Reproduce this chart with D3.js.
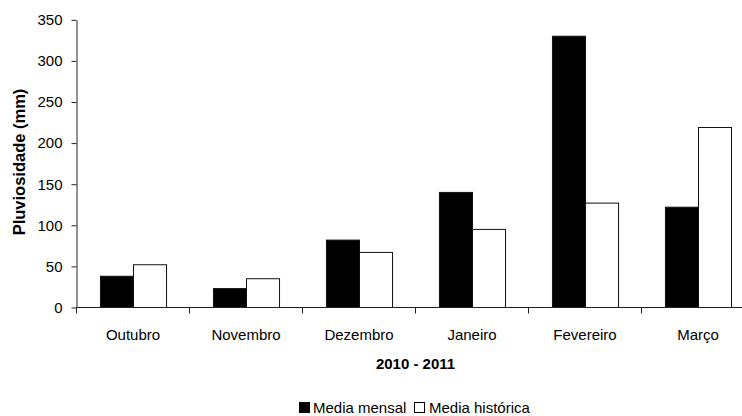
<!DOCTYPE html>
<html>
<head>
<meta charset="utf-8">
<script src="https://cdn.jsdelivr.net/npm/d3@7"></script>
<style>
  html, body { margin: 0; padding: 0; background: #fff; }
  svg { display: block; font-family: "Liberation Sans", Arial, sans-serif; }
</style>
</head>
<body>
<svg id="chart" width="742" height="416"></svg>
<script>
const categories = ["Outubro", "Novembro", "Dezembro", "Janeiro", "Fevereiro", "Março"];
const seriesNames = ["Media mensal", "Media histórica"];
const mediaMensal = [38, 23, 82, 140, 330, 122];
const mediaHistorica = [52, 35, 67, 95, 127, 219];
const yTicks = [0, 50, 100, 150, 200, 250, 300, 350];
const yTitle = "Pluviosidade (mm)";
const xTitle = "2010 - 2011";

const seriesValues = [mediaMensal, mediaHistorica];
const fills = ["#000000", "#ffffff"];

const svg = d3.select("#chart");
const mLeft = 76.5, mRight = 754.5, mTop = 19.8, mBottom = 307.5;

const x0 = d3.scaleBand().domain(categories).range([mLeft, mRight]).padding(0);
const x1 = d3.scaleBand().domain(seriesNames).range([0, x0.bandwidth()])
  .paddingInner(0).paddingOuter(0.71);
const y = d3.scaleLinear().domain([0, 350]).range([mBottom, mTop]);

// bars
const groups = svg.append("g").selectAll("g")
  .data(categories).join("g")
  .attr("transform", d => `translate(${x0(d)},0)`);

groups.selectAll("rect")
  .data((c, i) => seriesNames.map((s, j) => ({ s, j, v: seriesValues[j][i] })))
  .join("rect")
  .attr("x", d => x1(d.s) + 0.5)
  .attr("y", d => y(d.v))
  .attr("width", x1.bandwidth())
  .attr("height", d => y(0) - y(d.v))
  .attr("fill", d => fills[d.j])
  .attr("stroke", "#111")
  .attr("stroke-width", 1);

// y axis
const yAxis = d3.axisLeft(y).tickValues(yTicks).tickSize(5).tickSizeOuter(0).tickPadding(9);
const gy = svg.append("g").attr("transform", `translate(${mLeft},0)`).call(yAxis);
gy.selectAll("text").attr("font-size", 15).attr("fill", "#000")
  .attr("font-family", '"Liberation Sans", Arial, sans-serif');
gy.selectAll("line, path").attr("stroke", "#222");

// x axis line and ticks
svg.append("line")
  .attr("x1", mLeft).attr("x2", mRight).attr("y1", mBottom).attr("y2", mBottom)
  .attr("stroke", "#222");
const boundaries = categories.map(c => x0(c)).concat([x0(categories[categories.length - 1]) + x0.bandwidth()]);
svg.append("g").selectAll("line").data(boundaries).join("line")
  .attr("x1", d => d).attr("x2", d => d)
  .attr("y1", mBottom).attr("y2", mBottom + 6)
  .attr("stroke", "#222");

svg.append("g").selectAll("text").data(categories).join("text")
  .attr("x", d => x0(d) + x0.bandwidth() / 2)
  .attr("y", 340)
  .attr("text-anchor", "middle")
  .attr("font-size", 15)
  .text(d => d);

// titles
svg.append("text")
  .attr("x", (mLeft + mRight) / 2).attr("y", 369)
  .attr("text-anchor", "middle").attr("font-size", 15).attr("font-weight", "bold")
  .text(xTitle);

svg.append("text")
  .attr("transform", `translate(25,162) rotate(-90)`)
  .attr("text-anchor", "middle").attr("font-size", 16.5).attr("font-weight", "bold")
  .text(yTitle);

// legend
const lg = svg.append("g");
const legendY = 413;
lg.append("rect").attr("x", 299.5).attr("y", 402.5).attr("width", 10).attr("height", 10)
  .attr("fill", fills[0]).attr("stroke", "#000");
lg.append("text").attr("x", 313).attr("y", legendY).attr("font-size", 15).text(seriesNames[0]);
lg.append("rect").attr("x", 414.5).attr("y", 402.5).attr("width", 10).attr("height", 10)
  .attr("fill", fills[1]).attr("stroke", "#000");
lg.append("text").attr("x", 429).attr("y", legendY).attr("font-size", 15).text(seriesNames[1]);
</script>
</body>
</html>
